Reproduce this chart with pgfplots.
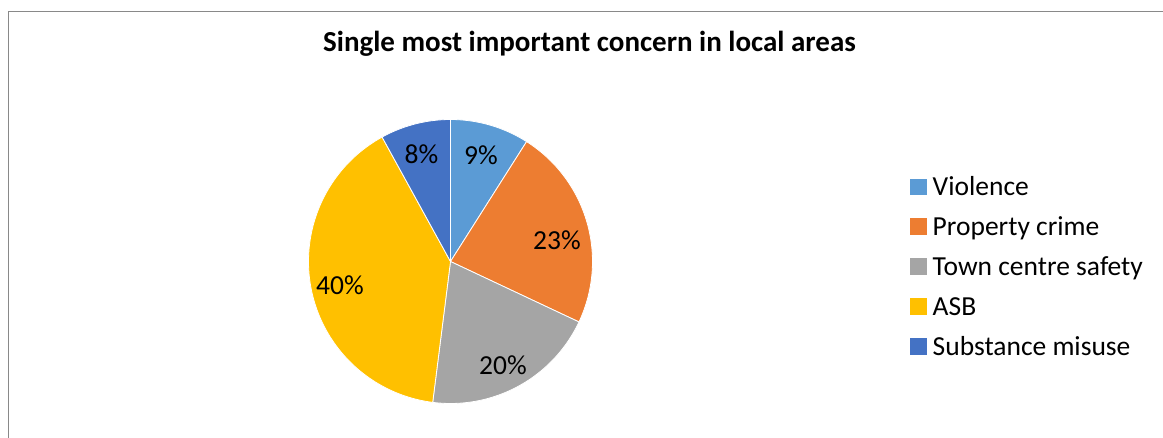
\documentclass[border=0pt]{standalone}
\usepackage{fontspec}
\setmainfont{Carlito}
\usepackage{pgfplots}
\pgfplotsset{compat=1.18}
\definecolor{cViolence}{HTML}{5B9BD5}
\definecolor{cProperty}{HTML}{ED7D31}
\definecolor{cTown}{HTML}{A5A5A5}
\definecolor{cASB}{HTML}{FFC000}
\definecolor{cSubst}{HTML}{4472C4}
\definecolor{frameGray}{HTML}{898989}
% pie centre and radius in picture units (1 unit = 1pt)
\def\cx{450.5}
\def\cy{261.5}
\def\rr{142}
\begin{document}
\begin{tikzpicture}
\begin{axis}[
  at={(0,0)}, anchor=south west,
  scale only axis, width=1163pt, height=438pt,
  xmin=0, xmax=1163, ymin=0, ymax=438, y dir=reverse,
  axis lines=none, clip=false,
  legend cell align=left,
  legend image code/.code={\path[#1, draw=none] (0pt,-6.3pt) rectangle (16.5pt,10.2pt);},
  legend style={draw=none, fill=none, at={(axis cs:910,175)}, anchor=north west,
    font=\fontsize{27.5}{33}\selectfont, row sep=13pt, inner sep=0pt,
    nodes={inner sep=0pt, text height=20pt, text depth=7pt},
    /tikz/every odd column/.append style={column sep=6pt}},
]
% shares in percent: Violence 9, Property crime 23, Town centre safety 20, ASB 40, Substance misuse 8
\addplot[fill=cViolence, draw=white, line width=0.8pt, domain=0:9, samples=30, variable=\t]
  ({\cx+\rr*cos(90-3.6*\t)}, {\cy-\rr*sin(90-3.6*\t)}) -- (axis cs:\cx,\cy) -- cycle;
\addlegendentry{Violence}
\addplot[fill=cProperty, draw=white, line width=0.8pt, domain=9:32, samples=60, variable=\t]
  ({\cx+\rr*cos(90-3.6*\t)}, {\cy-\rr*sin(90-3.6*\t)}) -- (axis cs:\cx,\cy) -- cycle;
\addlegendentry{Property crime}
\addplot[fill=cTown, draw=white, line width=0.8pt, domain=32:52, samples=60, variable=\t]
  ({\cx+\rr*cos(90-3.6*\t)}, {\cy-\rr*sin(90-3.6*\t)}) -- (axis cs:\cx,\cy) -- cycle;
\addlegendentry{Town centre safety}
\addplot[fill=cASB, draw=white, line width=0.8pt, domain=52:92, samples=100, variable=\t]
  ({\cx+\rr*cos(90-3.6*\t)}, {\cy-\rr*sin(90-3.6*\t)}) -- (axis cs:\cx,\cy) -- cycle;
\addlegendentry{ASB}
\addplot[fill=cSubst, draw=white, line width=0.8pt, domain=92:100, samples=30, variable=\t]
  ({\cx+\rr*cos(90-3.6*\t)}, {\cy-\rr*sin(90-3.6*\t)}) -- (axis cs:\cx,\cy) -- cycle;
\addlegendentry{Substance misuse}
% data labels
\begin{scope}[every node/.style={font=\fontsize{27.5}{33}\selectfont, inner sep=0pt}]
\node at (axis cs:481,155) {9\%};
\node at (axis cs:557,240) {23\%};
\node at (axis cs:503,365) {20\%};
\node at (axis cs:340,285) {40\%};
\node at (axis cs:421.5,154) {8\%};
\end{scope}
% title
\node[font=\bfseries\fontsize{29}{35}\selectfont, inner sep=0pt, anchor=base] at (axis cs:589.5,52) {Single most important concern in local areas};
% chart frame (top and left edges visible)
\draw[frameGray, line width=1pt] (axis cs:8.5,438) -- (axis cs:8.5,11.5) -- (axis cs:1163,11.5);
\end{axis}
\pgfresetboundingbox
\path (0,0) rectangle (1163pt,438pt);
\end{tikzpicture}
\end{document}
